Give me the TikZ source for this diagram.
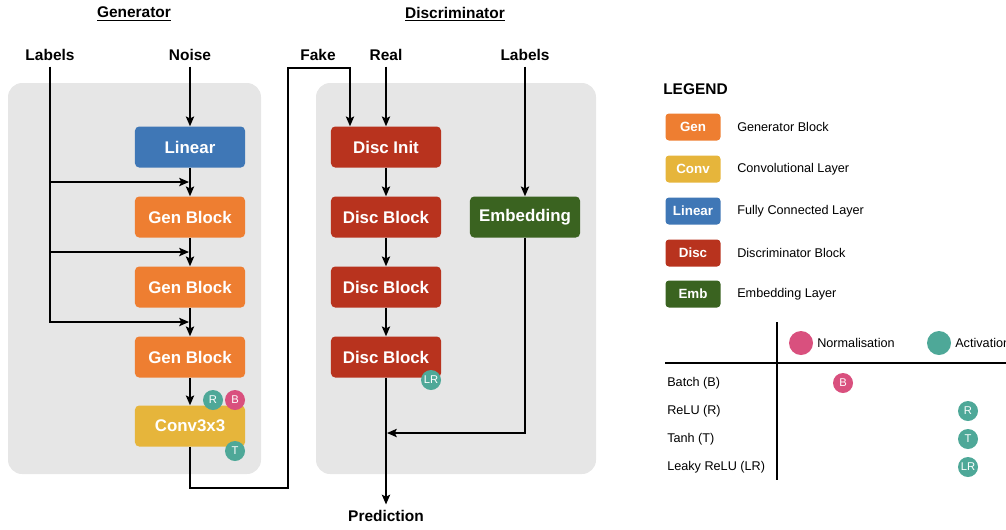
\documentclass[tikz,border=0pt]{standalone}
\usepackage{fontspec}
\setmainfont{Liberation Sans}
\usepackage{tikz}
\usetikzlibrary{arrows.meta,positioning}

\definecolor{genorange}{HTML}{EE7E31}
\definecolor{convyellow}{HTML}{E6B53B}
\definecolor{linblue}{HTML}{3F77B6}
\definecolor{discred}{HTML}{B8331E}
\definecolor{embgreen}{HTML}{3A6320}
\definecolor{actteal}{HTML}{4EA898}
\definecolor{normpink}{HTML}{D9507E}
\definecolor{panelgray}{HTML}{E6E6E6}

\tikzset{
	block/.style={rectangle, rounded corners=3pt, minimum width=2.75cm, minimum height=1.025cm, text=white, font=\bfseries\fontsize{12}{14}\selectfont},
	keybox/.style={rectangle, rounded corners=2.5pt, minimum width=1.375cm, minimum height=0.675cm, text=white, font=\bfseries\fontsize{9.5}{11}\selectfont},
	act/.style={circle, fill=actteal, text=white, minimum size=0.5cm, inner sep=0pt, font=\fontsize{8}{9}\selectfont},
	norm/.style={act, fill=normpink},
	io/.style={font=\bfseries\fontsize{11}{13}\selectfont, inner sep=4pt},
	keytext/.style={anchor=west, font=\fontsize{9}{11}\selectfont, inner sep=0pt},
	wire/.style={line width=0.8pt, -{Stealth[length=7pt, width=6pt, inset=1.5pt]}},
}

\begin{document}
\begin{tikzpicture}[x=0.025cm, y=-0.025cm]
	\useasboundingbox (0,0) rectangle (1006,529);
	% Panels:
	\fill[panelgray, rounded corners=10pt] (8,83) rectangle (261,474);
	\fill[panelgray, rounded corners=10pt] (316,83) rectangle (596,474);
	% Titles and inputs:
	\node[io] (gtitle) at (134,14) {\underline{Generator}};
	\node[io] (dtitle) at (455,14) {\underline{Discriminator}};
	\node[io] (glab) at (50,55) {Labels};
	\node[io] (noise) at (190,55) {Noise};
	\node[io] (fake) at (318,55) {Fake};
	\node[io] (real) at (386,55) {Real};
	\node[io] (dlab) at (525,55) {Labels};
	\node[io] (pred) at (386,516) {Prediction};
	% Generator:
	\node[block, fill=linblue] (lin) at (190,147) {Linear};
	\node[block, fill=genorange] (gb1) at (190,217) {Gen Block};
	\node[block, fill=genorange] (gb2) at (190,287) {Gen Block};
	\node[block, fill=genorange] (gb3) at (190,357) {Gen Block};
	\node[block, fill=convyellow] (conv) at (190,426) {Conv3x3};
	\node[act] (convr) at (213,400) {R};
	\node[norm] (convb) at (235,400) {B};
	\node[act] (convt) at (235,451) {T};
	% Discriminator:
	\node[block, fill=discred] (dinit) at (386,147) {Disc Init};
	\node[block, fill=discred] (db1) at (386,217) {Disc Block};
	\node[block, fill=discred] (db2) at (386,287) {Disc Block};
	\node[block, fill=discred] (db3) at (386,357) {Disc Block};
	\node[act] (dblr) at (431,380) {LR};
	\node[block, fill=embgreen] (emb) at (525,217) {Embedding};
	% Wires:
	\coordinate (j1) at (189,182);
	\coordinate (j2) at (189,252);
	\coordinate (j3) at (189,322);
	\coordinate (f1) at (288,488);
	\coordinate (f2) at (350,68);
	\coordinate (mrg) at (387,433);
	\draw[wire] (noise.south) -- (lin.north);
	\draw[wire] (lin.south) -- (gb1.north);
	\draw[wire] (gb1.south) -- (gb2.north);
	\draw[wire] (gb2.south) -- (gb3.north);
	\draw[wire] (gb3.south) -- (conv.north);
	\draw[wire] (glab.south) |- (j3);
	\draw[wire] (glab.south |- j1) -- (j1);
	\draw[wire] (glab.south |- j2) -- (j2);
	\draw[wire] (conv.south) |- (f1) |- (f2) -- (f2 |- dinit.north);
	\draw[wire] (real.south) -- (dinit.north);
	\draw[wire] (dinit.south) -- (db1.north);
	\draw[wire] (db1.south) -- (db2.north);
	\draw[wire] (db2.south) -- (db3.north);
	\draw[wire] (dlab.south) -- (emb.north);
	\draw[wire] (emb.south) |- (mrg);
	\draw[wire] (db3.south) -- (pred.north);
	% Legend:
	\node[io, anchor=west, inner sep=0pt] (legend) at (663,89) {LEGEND};
	\node[keybox, fill=genorange] (kgen) at (693,127) {Gen};
	\node[keybox, fill=convyellow] (kconv) at (693,169) {Conv};
	\node[keybox, fill=linblue] (klin) at (693,211) {Linear};
	\node[keybox, fill=discred] (kdisc) at (693,253) {Disc};
	\node[keybox, fill=embgreen] (kemb) at (693,294) {Emb};
	\node[keytext] (tgen) at (737,127) {Generator Block};
	\node[keytext] (tconv) at (737,169) {Convolutional Layer};
	\node[keytext] (tlin) at (737,211) {Fully Connected Layer};
	\node[keytext] (tdisc) at (737,253) {Discriminator Block};
	\node[keytext] (temb) at (737,294) {Embedding Layer};
	% Table:
	\draw[line width=0.8pt] (777,322) -- (777,480);
	\draw[line width=0.8pt] (665,363) -- (1006,363);
	\node[norm, minimum size=0.6cm] (hnorm) at (801,343) {};
	\node[keytext] (tnorm) at (817,343) {Normalisation};
	\node[act, minimum size=0.6cm] (hact) at (939,343) {};
	\node[keytext] (tact) at (955,343) {Activation};
	\node[keytext] (rbatch) at (667,383) {Batch (B)};
	\node[keytext] (rrelu) at (667,411) {ReLU (R)};
	\node[keytext] (rtanh) at (667,439) {Tanh (T)};
	\node[keytext] (rlrelu) at (667,467) {Leaky ReLU (LR)};
	\node[norm] (cb) at (843,383) {B};
	\node[act] (cr) at (968,411) {R};
	\node[act] (ct) at (968,439) {T};
	\node[act] (clr) at (968,467) {LR};
\end{tikzpicture}
\end{document}
